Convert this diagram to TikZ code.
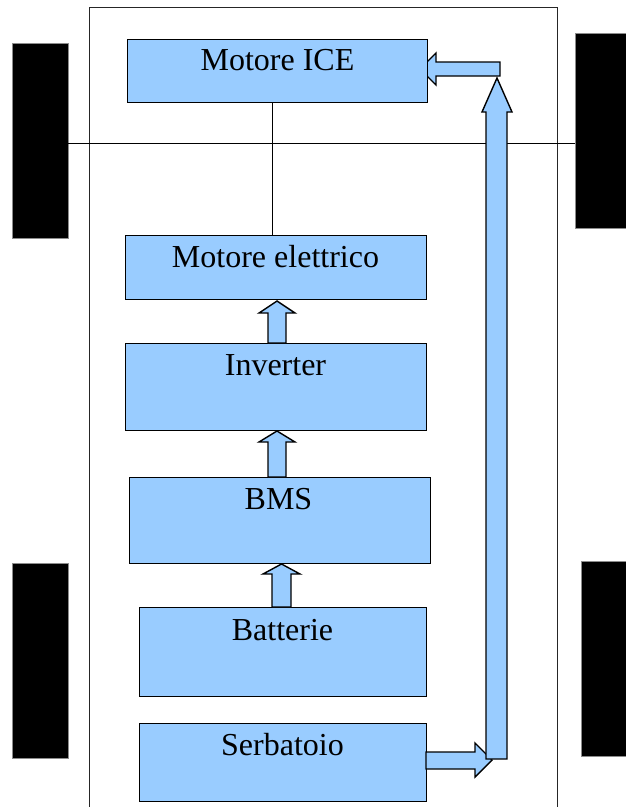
\documentclass[tikz,border=0pt]{standalone}
\usepackage{fontspec}
\setmainfont{Liberation Serif}
\begin{document}
\begin{tikzpicture}[x=1pt,y=-1pt,
  box/.style={draw=black,line width=1.4pt,fill=boxblue,inner sep=0pt,anchor=north west},
  lbl/.style={font=\fontsize{32}{32}\selectfont,anchor=base,inner sep=0pt},
  wheel/.style={fill=black,draw=black!45,line width=0.6pt},
  barrow/.style={draw=black,line width=1.4pt,fill=boxblue,line join=miter}]
\definecolor{boxblue}{HTML}{99CCFF}
\useasboundingbox (0,0) rectangle (626,807);
\fill[white] (0,0) rectangle (626,807);
% frame
\draw[line width=1pt,draw=black!85] (89,812) -- (89,7) -- (557,7) -- (557,812);
% wheels
\node[wheel,inner sep=0pt,minimum width=56pt,minimum height=195pt,anchor=north west] (wtl) at (12,43) {};
\node[wheel,inner sep=0pt,minimum width=60pt,minimum height=195pt,anchor=north west] (wtr) at (575,33) {};
\node[wheel,inner sep=0pt,minimum width=56pt,minimum height=195pt,anchor=north west] (wbl) at (12,563) {};
\node[wheel,inner sep=0pt,minimum width=55pt,minimum height=195pt,anchor=north west] (wbr) at (581,561) {};
% axle
\coordinate (axL) at (68,143.5);
\coordinate (axR) at (575,143.5);
\draw[line width=1pt] (axL) -- (axR);
% top arrow to ICE (drawn under the box)
\draw[barrow] (500,62) -- (436,62) -- (436,53) -- (420,69) -- (436,85) -- (436,76) -- (500,76) -- cycle;
% boxes
\node[box,minimum width=300pt,minimum height=63pt] (ice) at (127,39) {};
\node[box,minimum width=301pt,minimum height=64pt] (mel) at (125,235) {};
\node[box,minimum width=301pt,minimum height=87pt] (inv) at (125,343) {};
\node[box,minimum width=301pt,minimum height=86pt] (bms) at (129,477) {};
\node[box,minimum width=287pt,minimum height=89pt] (bat) at (139,607) {};
\node[box,minimum width=287pt,minimum height=78pt] (ser) at (139,723) {};
% labels
\node[lbl] (iceT) at (277.5,70) {Motore ICE};
\node[lbl] (melT) at (275.5,267) {Motore elettrico};
\node[lbl] (invT) at (275.5,375) {Inverter};
\node[lbl] (bmsT) at (278.5,509) {BMS};
\node[lbl] (batT) at (282.5,640) {Batterie};
\node[lbl] (serT) at (282.5,755) {Serbatoio};
% shaft line
\draw[line width=1pt] (ice.south -| 272,0) -- (mel.north -| 272,0);
% small block arrows
\draw[barrow] (268,343) -- (268,313) -- (259,313) -- (277,301) -- (295,313) -- (286,313) -- (286,343) -- cycle;
\draw[barrow] (268,477) -- (268,442) -- (259,442) -- (277,431) -- (295,442) -- (286,442) -- (286,477) -- cycle;
\draw[barrow] (272,607) -- (272,574) -- (263,574) -- (281.5,564) -- (300,574) -- (291,574) -- (291,607) -- cycle;
% bottom arrow from Serbatoio
\draw[barrow] (426,752) -- (475,752) -- (475,743) -- (492,760) -- (475,777) -- (475,769) -- (426,769) -- cycle;
% vertical big arrow
\draw[barrow] (486,759) -- (486,112) -- (482,112) -- (497,78) -- (512,112) -- (507,112) -- (507,759) -- cycle;
\end{tikzpicture}
\end{document}
